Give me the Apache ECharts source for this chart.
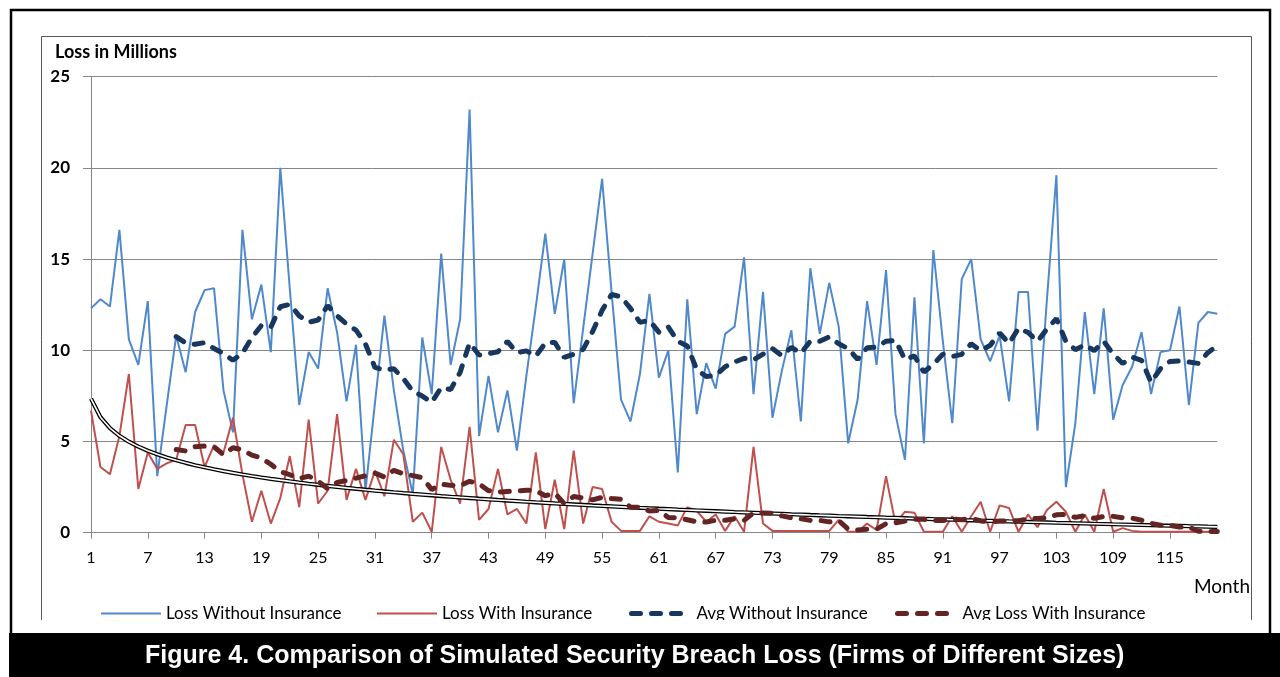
<!DOCTYPE html>
<html><head><meta charset="utf-8">
<script src="https://cdn.jsdelivr.net/npm/echarts@6/dist/echarts.min.js"></script>
<style>html,body{margin:0;padding:0;background:#fff}#c{width:1280px;height:677px}</style>
</head><body><div id="c"></div>
<script>
// Month categories 1..120
const months = Array.from({length: 120}, (_, i) => String(i + 1));

// Loss Without Insurance (millions)
const lossWithout = [
  12.3, 12.8, 12.4, 16.6, 10.6, 9.2, 12.7, 3.1, 7.0, 10.8,
  8.8, 12.1, 13.3, 13.4, 7.8, 5.5, 16.6, 11.7, 13.6, 9.9,
  20.0, 13.4, 7.0, 9.9, 9.0, 13.4, 11.0, 7.2, 10.3, 2.3,
  7.1, 11.9, 7.8, 4.5, 2.1, 10.7, 7.6, 15.3, 9.2, 11.7,
  23.2, 5.3, 8.6, 5.5, 7.8, 4.5, 8.6, 12.4, 16.4, 12.0,
  15.0, 7.1, 11.2, 15.3, 19.4, 13.2, 7.3, 6.1, 8.7, 13.1,
  8.5, 10.0, 3.3, 12.8, 6.5, 9.3, 7.9, 10.9, 11.3, 15.1,
  7.6, 13.2, 6.3, 8.9, 11.1, 6.1, 14.5, 10.9, 13.7, 11.3,
  4.9, 7.3, 12.7, 9.2, 14.4, 6.5, 4.0, 12.9, 4.9, 15.5,
  10.5, 6.0, 13.9, 15.0, 10.6, 9.4, 10.8, 7.2, 13.2, 13.2,
  5.6, 12.8, 19.6, 2.5, 6.0, 12.1, 7.6, 12.3, 6.2, 8.1,
  9.1, 11.0, 7.6, 9.9, 10.0, 12.4, 7.0, 11.5, 12.1, 12.0
];

// Loss With Insurance (millions)
const lossWith = [
  6.7, 3.6, 3.2, 5.3, 8.7, 2.4, 4.4, 3.5, 3.8, 4.0,
  5.9, 5.9, 3.6, 4.8, 4.4, 6.3, 3.2, 0.6, 2.3, 0.5,
  1.9, 4.2, 1.4, 6.2, 1.6, 2.3, 6.5, 1.8, 3.5, 1.8,
  3.4, 2.0, 5.1, 4.3, 0.6, 1.1, 0.05, 4.7, 2.9, 1.6,
  5.8, 0.7, 1.3, 3.5, 1.0, 1.3, 0.5, 4.4, 0.2, 2.9,
  0.2, 4.5, 0.5, 2.5, 2.4, 0.6, 0.1, 0.1, 0.1, 0.9,
  0.6, 0.5, 0.4, 1.4, 1.2, 0.6, 1.0, 0.1, 0.9, 0.05,
  4.7, 0.5, 0.1, 0.1, 0.1, 0.1, 0.1, 0.1, 0.1, 0.7,
  0.05, 0.05, 0.5, 0.15, 3.1, 0.5, 1.15, 1.1, 0.05, 0.05,
  0.05, 0.9, 0.05, 0.9, 1.7, 0.05, 1.5, 1.35, 0.05, 1.0,
  0.3, 1.25, 1.7, 1.15, 0.05, 1.0, 0.05, 2.4, 0.05, 0.25,
  0.1, 0.05, 0.05, 0.05, 0.05, 0.05, 0.05, 0.05, 0.05, 0.1
];

const seriesNames = ['Loss Without Insurance', 'Loss With Insurance', 'Avg Without Insurance', 'Avg Loss With Insurance'];
const maPeriod = 10;

// 10-month moving averages (the chart's "Avg" lines)
function movingAvg(arr, p) {
  return arr.map((v, i) => {
    if (i < p - 1) return null;
    let s = 0;
    for (let k = i - p + 1; k <= i; k++) s += arr[k];
    return +(s / p).toFixed(3);
  });
}
// Logarithmic trendline of Loss With Insurance (least squares)
function logTrend(arr) {
  const n = arr.length;
  let sx = 0, sy = 0, sxx = 0, sxy = 0;
  arr.forEach((y, i) => { const x = Math.log(i + 1); sx += x; sy += y; sxx += x * x; sxy += x * y; });
  const b = (n * sxy - sx * sy) / (n * sxx - sx * sx);
  const a = (sy - b * sx) / n;
  return arr.map((_, i) => +(a + b * Math.log(i + 1)).toFixed(3));
}
const avgWithout = movingAvg(lossWithout, maPeriod);
const avgWith = movingAvg(lossWith, maPeriod);
const trendWith = logTrend(lossWith);

const BLUE = '#5088CC', RED = '#C0504D', NAVY = '#17375E', MAROON = '#632523';
const chart = echarts.init(document.getElementById('c'), null, {renderer: 'canvas'});
const FONT = 'Lato, "Open Sans", sans-serif';
const dashed = {width: 5, type: [9, 11], cap: 'round'};
function legendAt(left, idx, ls) {
  return {
    top: 600, left: left, itemWidth: 60, itemHeight: 14, selectedMode: false,
    textStyle: {fontFamily: FONT, fontSize: 17, color: '#000'},
    itemStyle: {opacity: 0}, lineStyle: ls,
    data: [seriesNames[idx]]
  };
}
chart.setOption({
  animation: false,
  backgroundColor: '#fff',
  grid: {left: 91, right: 62.7, top: 76.7, bottom: 144.3, containLabel: false},
  legend: [
    legendAt(95, 0, {width: 2, color: BLUE}),
    legendAt(371, 1, {width: 2, color: RED}),
    legendAt(624, 2, Object.assign({color: NAVY}, dashed)),
    legendAt(890, 3, Object.assign({color: MAROON}, dashed))
  ],
  xAxis: {
    type: 'category', data: months, boundaryGap: false,
    axisLine: {lineStyle: {color: '#868686', width: 1}},
    axisTick: {show: true, interval: 5, length: 6, lineStyle: {color: '#868686'}},
    axisLabel: {interval: 5, margin: 17, fontFamily: FONT, fontSize: 16, color: '#000'},
    splitLine: {show: false}
  },
  yAxis: {
    type: 'value', min: 0, max: 25, interval: 5,
    axisLine: {show: true, lineStyle: {color: '#868686', width: 1}},
    axisTick: {show: true, length: 8, lineStyle: {color: '#868686'}},
    axisLabel: {margin: 21, fontFamily: FONT, fontSize: 17, fontWeight: 'bold', color: '#000'},
    splitLine: {lineStyle: {color: '#868686', width: 1}}
  },
  series: [
    {name: seriesNames[0], type: 'line', data: lossWithout, symbol: 'none', z: 2,
     lineStyle: {color: BLUE, width: 2}, itemStyle: {color: BLUE}},
    {name: seriesNames[1], type: 'line', data: lossWith, symbol: 'none', z: 3,
     lineStyle: {color: RED, width: 2}, itemStyle: {color: RED}},
    {name: 'trend-outer', type: 'line', data: trendWith, symbol: 'none', z: 4, silent: true,
     lineStyle: {color: '#000', width: 4.2}},
    {name: 'trend-inner', type: 'line', data: trendWith, symbol: 'none', z: 5, silent: true,
     lineStyle: {color: '#fff', width: 1.6}},
    {name: seriesNames[2], type: 'line', data: avgWithout, symbol: 'none', z: 6, connectNulls: false,
     lineStyle: Object.assign({color: NAVY}, dashed), itemStyle: {color: NAVY}},
    {name: seriesNames[3], type: 'line', data: avgWith, symbol: 'none', z: 7, connectNulls: false,
     lineStyle: Object.assign({color: MAROON}, dashed), itemStyle: {color: MAROON}}
  ],
  graphic: [
    {type: 'rect', z: 50, shape: {x: 41.5, y: 36.5, width: 1210, height: 600}, style: {fill: 'none', stroke: '#595959', lineWidth: 1}},
    {type: 'text', z: 50, style: {x: 55, y: 52, text: 'Loss in Millions', font: 'bold 18px ' + FONT, fill: '#000', textVerticalAlign: 'middle'}},
    {type: 'text', z: 50, style: {x: 1250, y: 587, text: 'Month', font: '19px ' + FONT, fill: '#000', textAlign: 'right', textVerticalAlign: 'middle'}},
    {type: 'rect', z: 100, shape: {x: 12, y: 620, width: 1257, height: 14}, style: {fill: '#fff'}},
    {type: 'rect', z: 101, shape: {x: 11, y: 10, width: 1259, height: 630}, style: {fill: 'none', stroke: '#000', lineWidth: 2.5}},
    {type: 'rect', z: 102, shape: {x: 9, y: 633, width: 1271, height: 44}, style: {fill: '#000'}},
    {type: 'text', z: 103, style: {x: 145, y: 656, text: 'Figure 4. Comparison of Simulated Security Breach Loss (Firms of Different Sizes)', font: 'bold 25px "Liberation Sans", Arial, sans-serif', fill: '#fff', textVerticalAlign: 'middle'}}
  ]
});
</script></body></html>
